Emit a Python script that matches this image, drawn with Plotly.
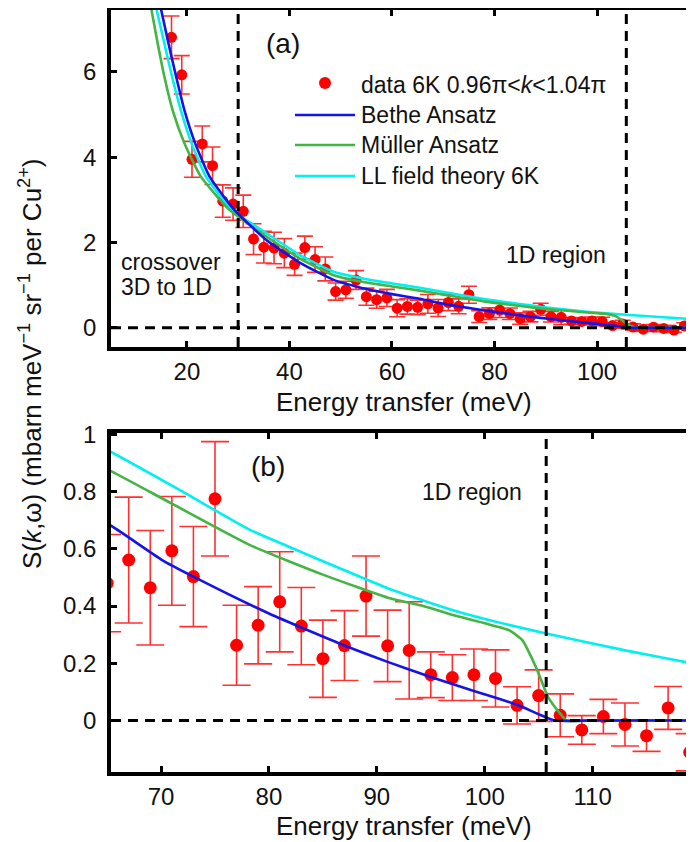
import plotly.graph_objects as go

# ---------------- data ----------------
energy = [17, 19, 21, 23, 25, 27, 29, 31, 33, 35, 37, 39, 41, 43, 45, 47, 49, 51,
          53, 55, 57, 59, 61, 63, 65, 67, 69, 71, 73, 75, 77, 79, 81, 83, 85, 87,
          89, 91, 93, 95, 97, 99, 101, 103, 105, 107, 109, 111, 113, 115, 117, 119]
s_data = [6.81, 5.93, 3.95, 4.31, 3.80, 2.97, 2.90, 2.73, 2.08, 1.89, 1.87, 1.75,
          1.49, 1.88, 1.60, 1.38, 0.85, 0.89, 1.12, 0.73, 0.66, 0.70, 0.46, 0.50,
          0.48, 0.561, 0.464, 0.593, 0.503, 0.775, 0.263, 0.333, 0.415, 0.33,
          0.216, 0.262, 0.435, 0.261, 0.245, 0.16, 0.15, 0.16, 0.147, 0.053,
          0.087, 0.018, -0.033, 0.014, -0.014, -0.053, 0.044, -0.111]
s_err = [0.5, 0.45, 0.42, 0.42, 0.44, 0.38, 0.38, 0.38, 0.36, 0.37, 0.37, 0.34,
         0.26, 0.27, 0.30, 0.28, 0.2, 0.2, 0.22, 0.2, 0.2, 0.2, 0.2, 0.18,
         0.17, 0.22, 0.2, 0.19, 0.175, 0.2, 0.14, 0.135, 0.175, 0.135,
         0.135, 0.122, 0.14, 0.125, 0.17, 0.08, 0.08, 0.09, 0.1, 0.065,
         0.09, 0.075, 0.05, 0.06, 0.075, 0.055, 0.075, 0.065]

bethe_x = [14.9, 16.4, 17.9, 19.5, 21.6, 24.4, 29.2, 35.5, 42.0, 48.5, 55.0,
           60.0, 65.4, 70.1, 73, 80, 87, 91, 95, 99, 103, 105, 106.5, 110, 120]
bethe_y = [7.5, 6.67, 5.89, 5.11, 4.33, 3.55, 2.77, 2.06, 1.53, 1.13, 0.91,
           0.79, 0.68, 0.561, 0.503, 0.374, 0.262, 0.205, 0.152, 0.103, 0.055,
           0.022, 0.0, 0.0, 0.0]

muller_x = [13.1, 14.3, 15.6, 17.2, 19.5, 22.7, 28.25, 35.5, 42.0, 48.5, 55.0,
            60.0, 65.4, 71, 78.2, 85, 91.2, 94.3, 97.4, 100, 102.3, 103.5, 104.8,
            105.9, 107, 107.6, 110, 120]
muller_y = [7.45, 6.67, 5.89, 5.11, 4.33, 3.55, 2.77, 2.14, 1.63, 1.24, 1.06,
            0.97, 0.871, 0.758, 0.614, 0.51, 0.427, 0.40, 0.365, 0.34, 0.315, 0.28,
            0.182, 0.08, 0.024, 0.0, 0.0, 0.0]

ll_x = [14.1, 15.6, 17.1, 18.8, 20.9, 23.7, 28.7, 35.5, 42.0, 48.5, 55.0,
        60.0, 65.4, 72, 78.2, 82, 87, 91.5, 98, 105.6, 112.9, 119.4, 120]
ll_y = [7.45, 6.67, 5.89, 5.11, 4.33, 3.55, 2.77, 2.22, 1.71, 1.32, 1.14,
        1.04, 0.938, 0.8, 0.667, 0.605, 0.525, 0.455, 0.375, 0.305, 0.246, 0.199, 0.196]

boundary_3d = 30
boundary_1d = 105.7

# ---------------- styling ----------------
RED = "#ff0000"
ERR = "#ff3030"
BLUE = "#1414e6"
GREEN = "#44b444"
CYAN = "#00f0f0"
FONT = "Liberation Sans, Arial, Helvetica, sans-serif"
TXT = "#111111"

OFF = 8                      # page body margin of the html page
W, H = 694 - OFF, 842 - OFF
ML, MR, MT, MB = 111 - OFF, 0, 10 - OFF, (842 - 772)
PW = W - ML - MR
PH = H - MT - MB


def px(xp):
    """reference-picture x pixel -> paper fraction"""
    return (xp - OFF - ML) / PW


def py(yp):
    """reference-picture y pixel -> paper fraction"""
    return (H - MB - (yp - OFF)) / PH


fig = go.Figure()

panels = [("x", "y", 8, 11), ("x2", "y2", 14, 13)]
for xa, ya, capw, msize in panels:
    fig.add_trace(go.Scatter(
        x=energy, y=s_data, mode="markers", xaxis=xa, yaxis=ya,
        marker=dict(color=RED, size=msize, symbol="circle"),
        error_y=dict(type="data", array=s_err, visible=True, color=ERR,
                     thickness=1.6, width=capw),
        showlegend=False))
    for cx, cy, col in [(ll_x, ll_y, CYAN), (muller_x, muller_y, GREEN),
                        (bethe_x, bethe_y, BLUE)]:
        fig.add_trace(go.Scatter(x=cx, y=cy, mode="lines", xaxis=xa, yaxis=ya,
                                 line=dict(color=col, width=2.6, shape="spline",
                                           smoothing=0.5),
                                 showlegend=False, hoverinfo="skip"))

axis_common = dict(showline=True, linewidth=3.5, linecolor="black", mirror="ticks",
                   ticks="inside", ticklen=6, tickwidth=3, tickcolor="black",
                   showgrid=False, zeroline=False, automargin=False,
                   tickfont=dict(family=FONT, size=24, color=TXT))

dom_a = [py(347), 1.0]
dom_b = [0.0, py(433)]

fig.update_layout(
    width=W, height=H,
    margin=dict(l=ML, r=MR, t=MT, b=MB, autoexpand=False),
    paper_bgcolor="white", plot_bgcolor="white",
    font=dict(family=FONT, size=24, color=TXT),
    showlegend=False,
    xaxis=dict(axis_common, domain=[0, 1], anchor="y", range=[5.2, 118.9],
               tickvals=[20, 40, 60, 80, 100]),
    yaxis=dict(axis_common, domain=dom_a, anchor="x", range=[-0.45, 7.45],
               tickvals=[0, 2, 4, 6], ticklabelstandoff=6),
    xaxis2=dict(axis_common, domain=[0, 1], anchor="y2", range=[65.36, 119.4],
                tickvals=[70, 80, 90, 100, 110]),
    yaxis2=dict(axis_common, domain=dom_b, anchor="x2", range=[-0.18, 1.005],
                tickvals=[0, 0.2, 0.4, 0.6, 0.8, 1],
                ticktext=["0", "0.2", "0.4", "0.6", "0.8", "1"],
                ticklabelstandoff=6),
)

dash = dict(color="black", width=3, dash="10px,7px")
shapes = [
    dict(type="line", xref="x", yref="y domain", x0=boundary_3d, x1=boundary_3d, y0=0, y1=1, line=dash),
    dict(type="line", xref="x", yref="y domain", x0=boundary_1d, x1=boundary_1d, y0=0, y1=1, line=dash),
    dict(type="line", xref="x domain", yref="y", x0=0, x1=1, y0=0, y1=0, line=dash),
    dict(type="line", xref="x2", yref="y2 domain", x0=boundary_1d, x1=boundary_1d, y0=0, y1=1, line=dash),
    dict(type="line", xref="x2 domain", yref="y2", x0=0, x1=1, y0=0, y1=0, line=dash),
]

# legend (manual)
leg_rows = [(85, None, "data 6K 0.96π&lt;<i>k</i>&lt;1.04π"),
            (115, BLUE, "Bethe Ansatz"),
            (145, GREEN, "Müller Ansatz"),
            (176, CYAN, "LL field theory 6K")]
annotations = []
for yy, col, label in leg_rows:
    if col is None:
        shapes.append(dict(type="circle", xref="paper", yref="paper",
                           x0=px(319), x1=px(331), y0=py(89), y1=py(77),
                           fillcolor=RED, line=dict(width=0)))
    else:
        shapes.append(dict(type="line", xref="paper", yref="paper",
                           x0=px(295), x1=px(355), y0=py(yy), y1=py(yy),
                           line=dict(color=col, width=2.6)))
    annotations.append(dict(xref="paper", yref="paper", x=px(359), y=py(yy),
                            text=label, showarrow=False, xanchor="left", yanchor="middle",
                            font=dict(size=23, color=TXT)))

annotations += [
    dict(xref="paper", yref="paper", x=px(404), y=py(402), text="Energy transfer (meV)",
         showarrow=False, xanchor="center", yanchor="middle", font=dict(size=26, color=TXT)),
    dict(xref="paper", yref="paper", x=px(404), y=py(826), text="Energy transfer (meV)",
         showarrow=False, xanchor="center", yanchor="middle", font=dict(size=26, color=TXT)),
    dict(xref="paper", yref="paper", x=px(283), y=py(44), text="(a)", showarrow=False,
         xanchor="center", yanchor="middle", font=dict(size=28, color=TXT)),
    dict(xref="paper", yref="paper", x=px(268), y=py(466), text="(b)", showarrow=False,
         xanchor="center", yanchor="middle", font=dict(size=28, color=TXT)),
    dict(xref="paper", yref="paper", x=px(119), y=py(262), text="crossover", showarrow=False,
         xanchor="left", yanchor="middle", font=dict(size=23, color=TXT)),
    dict(xref="paper", yref="paper", x=px(119), y=py(287), text="3D to 1D", showarrow=False,
         xanchor="left", yanchor="middle", font=dict(size=23, color=TXT)),
    dict(xref="paper", yref="paper", x=px(608), y=py(255), text="1D region", showarrow=False,
         xanchor="right", yanchor="middle", font=dict(size=23, color=TXT)),
    dict(xref="paper", yref="paper", x=px(524), y=py(492), text="1D region", showarrow=False,
         xanchor="right", yanchor="middle", font=dict(size=23, color=TXT)),
    dict(xref="paper", yref="paper", x=px(31), y=py(364),
         text="S(<i>k</i>,ω) (mbarn meV<sup>−1</sup> sr<sup>−1</sup> per Cu<sup>2+</sup>)",
         showarrow=False, textangle=-90, xanchor="center", yanchor="middle",
         font=dict(size=26, color=TXT)),
]

fig.update_layout(shapes=shapes, annotations=annotations)

fig.write_html("out.html")
